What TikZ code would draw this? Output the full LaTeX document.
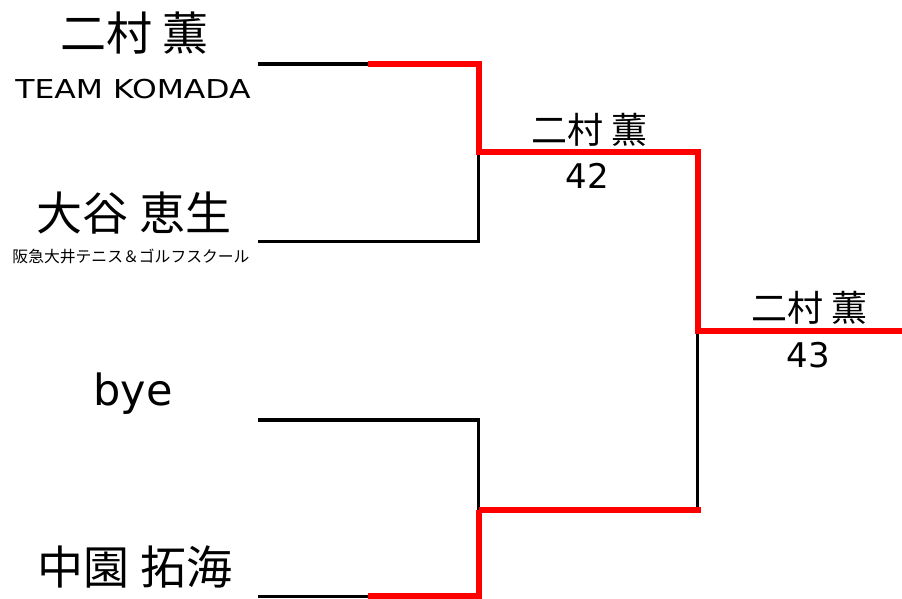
\documentclass[tikz,border=0pt]{standalone}
\usepackage{fontspec}
\setmainfont{Noto Sans CJK JP}
\newfontfamily\latinfont{DejaVu Sans}
\begin{document}
\begin{tikzpicture}[x=1pt,y=-1pt,
  bigname/.style={anchor=base,inner sep=0pt,font=\fontsize{46}{46}\selectfont},
  winname/.style={anchor=base,inner sep=0pt,font=\fontsize{36}{36}\selectfont},
  score/.style={anchor=base,inner sep=0pt,font=\latinfont\fontsize{34}{34}\selectfont},
  teamname/.style={anchor=base,inner sep=0pt,font=\latinfont\fontsize{26}{26}\selectfont},
  byename/.style={anchor=base,inner sep=0pt,font=\latinfont\fontsize{43}{43}\selectfont},
  smallteam/.style={anchor=base,inner sep=0pt,font=\fontsize{15.8}{15.8}\selectfont},
  loseline/.style={draw=black,line width=3.5pt},
  winline/.style={draw=red,line width=6pt,line join=miter}]
\useasboundingbox (0,0) rectangle (902,598);
% names
\node[bigname] (p1) at (134.5,50) {二村 薫};
\node[teamname] (t1) at (133,98) {\scalebox{1.21}[1]{TEAM KOMADA}};
\node[bigname] (p2) at (134,230) {大谷 恵生};
\node[smallteam] (t2) at (131,262.5) {阪急大井テニス＆ゴルフスクール};
\node[byename] (p3) at (133,405) {bye};
\node[bigname] (p4) at (135,584) {中園 拓海};
% winners
\node[winname] (w1) at (589.5,143.7) {二村 薫};
\node[score] (s1) at (587.5,188) {42};
\node[winname] (w2) at (809.5,321.7) {二村 薫};
\node[score] (s2) at (808.5,367) {43};
% coordinates
\coordinate (a1) at (258,64);
\coordinate (a1m) at (368,64);
\coordinate (a2) at (258,241.7);
\coordinate (m1) at (478.5,152);
\coordinate (b1) at (258,420);
\coordinate (b2) at (258,596.5);
\coordinate (b2m) at (368,596.5);
\coordinate (m2) at (478.5,509.5);
\coordinate (f) at (697.5,330.5);
\coordinate (e) at (902,330.5);
% black lines
\draw[loseline] (a1) -- (a1m);
\draw[loseline] (a2) -| (m1);
\draw[loseline] (b1) -| (m2);
\draw[loseline] (b2) -- (b2m);
\draw[loseline] (m2 -| f) -- (f);
% red lines
\draw[winline] (a1m) -| (m1) -| (f) -- (e);
\draw[winline] (368,595.5) -| (m2);
\draw[winline] (m2) -- ([xshift=3pt]m2 -| f);
\end{tikzpicture}
\end{document}
